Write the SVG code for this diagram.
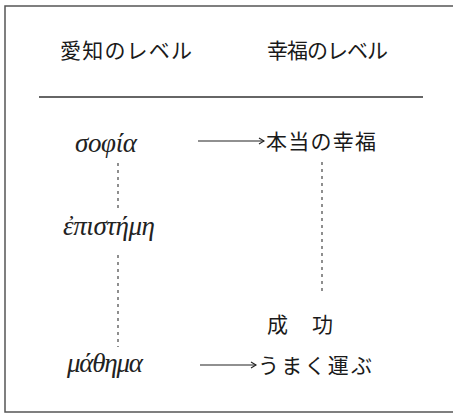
<svg xmlns="http://www.w3.org/2000/svg" width="453" height="416" viewBox="0 0 453 416">
<style>
.jp{font-family:"Noto Sans CJK JP","Noto Sans",sans-serif;font-size:21px;fill:#1a1a1a;font-weight:400}
.gr{font-family:"Liberation Serif","DejaVu Serif",serif;font-style:italic;font-size:27px;fill:#222}
.dash{stroke:#333;stroke-width:1.1;stroke-dasharray:3 4;fill:none}
.arr{stroke:#222;stroke-width:1.1;fill:none}
</style>
<rect x="5" y="6" width="470" height="406" fill="#fff" stroke="#555" stroke-width="1.5"/>
<g id="header">
<text class="jp" x="60" y="58" textLength="132" lengthAdjust="spacing">愛知のレベル</text>
<text class="jp" x="267" y="58" textLength="121" lengthAdjust="spacing">幸福のレベル</text>
<line x1="39" y1="97" x2="423" y2="97" stroke="#333" stroke-width="1.3"/>
</g>
<g id="sophia"><text class="gr" x="75" y="152" textLength="62" lengthAdjust="spacing">σοφία</text></g>
<g id="episteme"><text class="gr" x="63" y="235" textLength="92" lengthAdjust="spacing">ἐπιστήμη</text></g>
<g id="mathema"><text class="gr" x="67" y="372" textLength="76" lengthAdjust="spacing">μάθημα</text></g>
<g id="true-happiness"><text class="jp" x="266" y="149" textLength="110" lengthAdjust="spacing">本当の幸福</text></g>
<g id="success"><text class="jp" x="267" y="332">成</text><text class="jp" x="312" y="332">功</text></g>
<g id="going-well"><text class="jp" x="258" y="373" textLength="114" lengthAdjust="spacing">うまく運ぶ</text></g>
<g id="connectors">
<line class="arr" x1="198" y1="141" x2="264" y2="141"/>
<polyline class="arr" points="259,138 264,141 259,144"/>
<line class="arr" x1="200" y1="365" x2="256" y2="365"/>
<polyline class="arr" points="251,362 256,365 251,368"/>
<line class="dash" x1="118" y1="163" x2="118" y2="210"/>
<line class="dash" x1="118" y1="255" x2="118" y2="347"/>
<line class="dash" x1="322" y1="162" x2="322" y2="295"/>
</g>
</svg>
